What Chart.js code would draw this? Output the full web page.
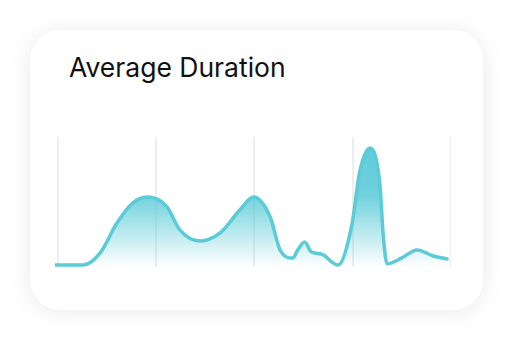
<!DOCTYPE html>
<html>
<head>
<meta charset="utf-8">
<script src="https://cdn.jsdelivr.net/npm/chart.js@4.4.0/dist/chart.umd.min.js"></script>
<style>
  html, body { margin: 0; padding: 0; background: #fff; }
  body { width: 512px; height: 338px; position: relative; overflow: hidden; }
  .card {
    position: absolute; left: 30px; top: 30px; width: 453px; height: 280px;
    background: #fff; border-radius: 30px;
    box-shadow: 0 2px 22px rgba(0, 0, 0, 0.09);
  }
  .title {
    position: absolute; left: 39px; top: 21px;
    font-family: Inter, "Noto Sans", sans-serif; font-size: 26.5px; color: #111;
  }
  .wrap { position: absolute; left: 25px; top: 107px; width: 396px; height: 130px; }
</style>
</head>
<body>
<div class="card">
  <div class="title">Average Duration</div>
  <div class="wrap"><canvas id="myChart"></canvas></div>
</div>
<script>
// 시간 위치 (x) 와 평균 소요 시간 (y)
const timePoints = [-0.03, 0.255, 0.43, 0.6, 0.76, 0.916, 1.11, 1.24, 1.445, 1.65, 1.85, 1.99, 2.16, 2.26, 2.39, 2.44, 2.51, 2.58, 2.68, 2.85, 2.99, 3.07, 3.176, 3.277, 3.31, 3.35, 3.5, 3.654, 3.82, 3.96];
const durationValues = [1.5, 1.5, 10.8, 33.8, 49.2, 53.8, 46.2, 28.5, 20, 26.2, 43.8, 53.8, 38.5, 13.1, 6.9, 13.1, 19.2, 11.5, 10, 1.5, 32, 73, 91.5, 63, 24.6, 2.5, 7, 13.1, 8.5, 6.2];
const gridTicks = [0, 1, 2, 3, 4];

const points = timePoints.map((t, i) => ({ x: t, y: durationValues[i] }));
const ctx = document.getElementById('myChart').getContext('2d');

new Chart(ctx, {
    type: 'line',
    data: {
        datasets: [{
            data: points,
            borderColor: '#5ccbd8',
            borderWidth: 3.5,
            borderCapStyle: 'round',
            borderJoinStyle: 'round',
            pointRadius: 0,
            cubicInterpolationMode: 'monotone',
            fill: 'origin',
            backgroundColor: (c) => {
                const area = c.chart.chartArea;
                if (!area) return 'rgba(92,203,216,0.5)';
                const g = c.chart.ctx.createLinearGradient(0, area.top, 0, area.bottom);
                g.addColorStop(0, 'rgba(92,203,216,1)');
                g.addColorStop(0.45, 'rgba(92,203,216,0.88)');
                g.addColorStop(1, 'rgba(92,203,216,0)');
                return g;
            }
        }]
    },
    options: {
        responsive: true,
        maintainAspectRatio: false,
        animation: false,
        layout: { padding: 0 },
        plugins: { legend: { display: false }, tooltip: { enabled: false } },
        scales: {
            x: {
                type: 'linear',
                min: -0.03,
                max: 4,
                afterBuildTicks: (axis) => { axis.ticks = gridTicks.map(v => ({ value: v })); },
                ticks: { display: false },
                border: { display: false },
                grid: { color: '#eeeeee', lineWidth: 2, drawTicks: false }
            },
            y: {
                display: false,
                min: 0,
                max: 100
            }
        }
    }
});
</script>
</body>
</html>
